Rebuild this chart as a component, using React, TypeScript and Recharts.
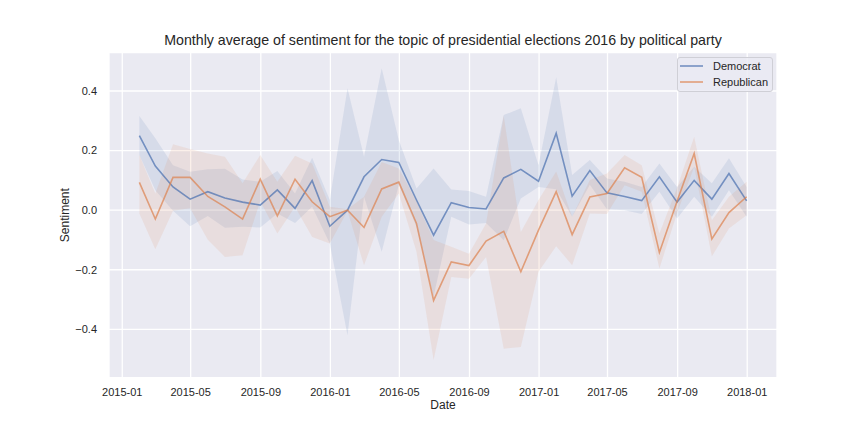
import React from 'react';
import { ComposedChart, Area, Line, XAxis, YAxis, CartesianGrid, Label } from 'recharts';

const months = [
  '2015-01-31', '2015-02-28', '2015-03-31', '2015-04-30', '2015-05-31', '2015-06-30',
  '2015-07-31', '2015-08-31', '2015-09-30', '2015-10-31', '2015-11-30', '2015-12-31',
  '2016-01-31', '2016-02-29', '2016-03-31', '2016-04-30', '2016-05-31', '2016-06-30',
  '2016-07-31', '2016-08-31', '2016-09-30', '2016-10-31', '2016-11-30', '2016-12-31',
  '2017-01-31', '2017-02-28', '2017-03-31', '2017-04-30', '2017-05-31', '2017-06-30',
  '2017-07-31', '2017-08-31', '2017-09-30', '2017-10-31', '2017-11-30', '2017-12-31',
];

const democratMean = [
  0.250, 0.148, 0.078, 0.037, 0.062, 0.041, 0.027, 0.017, 0.068, 0.006, 0.099, -0.054,
  0.000, 0.112, 0.170, 0.160, 0.034, -0.084, 0.025, 0.009, 0.004, 0.108, 0.137, 0.097,
  0.258, 0.047, 0.133, 0.058, 0.046, 0.032, 0.112, 0.027, 0.100, 0.037, 0.123, 0.031,
];
const democratLow = [
  0.185, 0.067, -0.002, -0.054, -0.020, -0.059, -0.056, -0.058, -0.011, -0.043, 0.011, -0.112,
  -0.420, 0.045, -0.140, 0.085, -0.056, -0.290, -0.022, -0.048, -0.043, -0.101, 0.039, 0.078,
  0.070, -0.022, 0.085, 0.003, 0.000, -0.013, 0.062, -0.028, 0.045, -0.022, 0.067, -0.022,
];
const democratHigh = [
  0.316, 0.241, 0.151, 0.129, 0.137, 0.139, 0.103, 0.095, 0.131, 0.056, 0.176, 0.034,
  0.409, 0.179, 0.476, 0.235, 0.073, 0.140, 0.069, 0.064, 0.045, 0.319, 0.342, 0.151,
  0.446, 0.118, 0.168, 0.106, 0.095, 0.078, 0.157, 0.078, 0.146, 0.090, 0.174, 0.078,
];

const republicanMean = [
  0.093, -0.030, 0.110, 0.110, 0.046, 0.011, -0.030, 0.104, -0.019, 0.104, 0.028, -0.022,
  0.000, -0.058, 0.071, 0.094, -0.045, -0.303, -0.174, -0.186, -0.104, -0.071, -0.207, -0.067,
  0.062, -0.082, 0.044, 0.056, 0.142, 0.110, -0.142, 0.030, 0.190, -0.097, -0.008, 0.045,
];
const republicanLow = [
  -0.011, -0.131, -0.002, 0.006, -0.099, -0.157, -0.151, 0.030, -0.078, 0.011, -0.090, -0.112,
  -0.003, -0.185, -0.022, 0.056, -0.140, -0.503, -0.224, -0.230, -0.157, -0.465, -0.459, -0.207,
  -0.121, -0.185, -0.011, -0.013, 0.084, 0.062, -0.196, -0.010, 0.146, -0.155, -0.062, -0.017,
];
const republicanHigh = [
  0.185, 0.056, 0.221, 0.205, 0.190, 0.179, 0.090, 0.185, 0.095, 0.183, 0.157, 0.011,
  0.003, 0.045, 0.162, 0.140, 0.030, -0.100, -0.123, -0.146, -0.045, 0.317, -0.073, 0.034,
  0.130, -0.022, 0.101, 0.123, 0.185, 0.151, -0.078, 0.075, 0.246, -0.034, 0.045, 0.095,
];

const tickLabels = [
  '2015-01', '2015-05', '2015-09', '2016-01', '2016-05',
  '2016-09', '2017-01', '2017-05', '2017-09', '2018-01',
];
const yTicks = [-0.4, -0.2, 0, 0.2, 0.4];

const ORIGIN = Date.parse('2015-01-01');
const dayOf = (s: string) => (Date.parse(s.length === 7 ? s + '-01' : s) - ORIGIN) / 86400000;

const data = months.map((m, i) => ({
  t: dayOf(m),
  dem: democratMean[i],
  demBand: [democratLow[i], democratHigh[i]],
  rep: republicanMean[i],
  repBand: [republicanLow[i], republicanHigh[i]],
}));

const xTicks = tickLabels.map(dayOf);
const first = data[0].t;
const last = data[data.length - 1].t;
const pad = (last - first) * 0.05;
const xDomain = [first - pad, last + pad];

const BLUE = '#4c72b0';
const ORANGE = '#dd8452';
const TEXT = '#262626';
const FONT = '"Liberation Sans", Arial, Helvetica, sans-serif';

const fmtY = (v: number) => v.toFixed(1).replace('-', '\u2212');
const fmtX = (v: number) => {
  const i = xTicks.findIndex((d) => Math.abs(d - v) < 0.5);
  return i >= 0 ? tickLabels[i] : '';
};

export default function App() {
  return (
    <div style={{ position: 'absolute', left: 0, top: 0, width: 864, height: 432, background: '#fff', fontFamily: FONT }}>
      <div
        style={{
          position: 'absolute', left: 109, width: 668, top: 32, textAlign: 'center',
          fontSize: 14.2, color: TEXT, whiteSpace: 'nowrap', lineHeight: '16px',
        }}
      >
        Monthly average of sentiment for the topic of presidential elections 2016 by political party
      </div>
      <ComposedChart
        width={864}
        height={432}
        data={data}
        margin={{ top: 52.7, right: 87, bottom: 0, left: 0 }}
        style={{ fontFamily: FONT }}
      >
        <CartesianGrid fill="#eaeaf2" fillOpacity={1} stroke="#ffffff" strokeWidth={1.3} />
        <XAxis
          dataKey="t"
          type="number"
          domain={xDomain}
          ticks={xTicks}
          tickFormatter={fmtX}
          allowDataOverflow
          axisLine={false}
          tickLine={false}
          tickSize={4}
          tickMargin={6}
          height={54.3}
          tick={{ fontSize: 11, fill: TEXT, fontFamily: FONT }}
        >
          <Label
            content={({ viewBox }: any) => (
              <text
                x={viewBox.x + viewBox.width / 2}
                y={viewBox.y + 31.5}
                textAnchor="middle"
                fontSize={12}
                fill={TEXT}
                fontFamily={FONT}
              >
                Date
              </text>
            )}
          />
        </XAxis>
        <YAxis
          type="number"
          domain={[-0.5624, 0.5285]}
          ticks={yTicks}
          tickFormatter={fmtY}
          allowDataOverflow
          axisLine={false}
          tickLine={false}
          tickSize={6}
          tickMargin={6}
          width={109}
          tick={{ fontSize: 11, fill: TEXT, fontFamily: FONT }}
        >
          <Label
            content={({ viewBox }: any) => {
              const cx = 69;
              const cy = viewBox.y + viewBox.height / 2;
              return (
                <text
                  x={cx}
                  y={cy}
                  transform={`rotate(-90 ${cx} ${cy})`}
                  textAnchor="middle"
                  fontSize={12}
                  fill={TEXT}
                  fontFamily={FONT}
                >
                  Sentiment
                </text>
              );
            }}
          />
        </YAxis>
        <Area
          dataKey="demBand"
          type="linear"
          stroke="none"
          fill={BLUE}
          fillOpacity={0.12}
          isAnimationActive={false}
          activeDot={false}
        />
        <Line
          dataKey="dem"
          type="linear"
          stroke={BLUE}
          strokeOpacity={0.72}
          strokeWidth={1.6}
          dot={false}
          activeDot={false}
          isAnimationActive={false}
        />
        <Area
          dataKey="repBand"
          type="linear"
          stroke="none"
          fill={ORANGE}
          fillOpacity={0.12}
          isAnimationActive={false}
          activeDot={false}
        />
        <Line
          dataKey="rep"
          type="linear"
          stroke={ORANGE}
          strokeOpacity={0.72}
          strokeWidth={1.6}
          dot={false}
          activeDot={false}
          isAnimationActive={false}
        />
      </ComposedChart>
      <div
        style={{
          position: 'absolute', left: 677, top: 57, width: 96, height: 35, boxSizing: 'border-box',
          border: '1px solid #cfcfd6', borderRadius: 3, background: 'rgba(234,234,242,0.8)',
          fontSize: 11, color: TEXT,
        }}
      >
        {[
          { name: 'Democrat', color: BLUE },
          { name: 'Republican', color: ORANGE },
        ].map((it, k) => (
          <div key={it.name} style={{ position: 'absolute', left: 2, top: 1 + k * 16, height: 14, display: 'flex', alignItems: 'center' }}>
            <div style={{ width: 23, height: 0, borderTop: `2px solid ${it.color}`, opacity: 0.6, marginRight: 10 }} />
            <span style={{ lineHeight: '14px' }}>{it.name}</span>
          </div>
        ))}
      </div>
    </div>
  );
}
